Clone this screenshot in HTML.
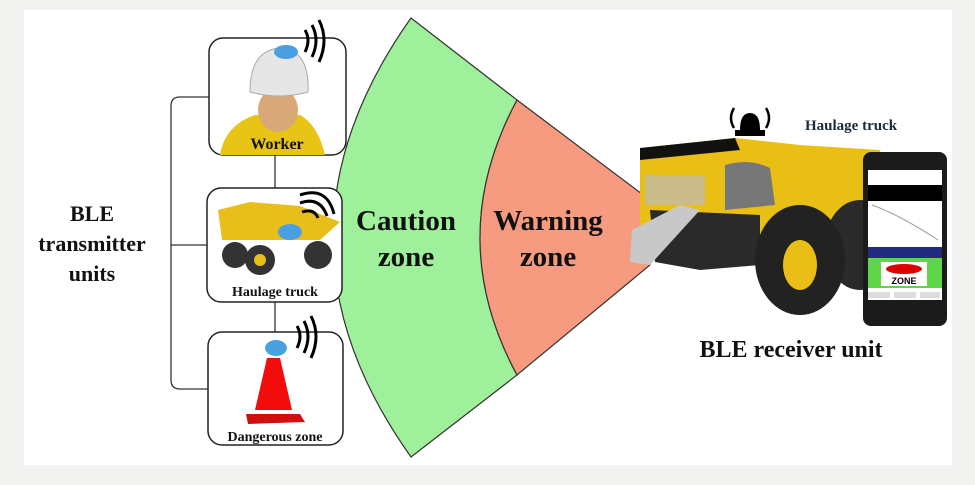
<!DOCTYPE html>
<html><head><style>
body{margin:0;width:975px;height:480px;background:#f3f3f1;overflow:hidden;font-family:"Liberation Serif",serif}
</style></head><body>
<svg width="975" height="480" viewBox="0 0 975 480" xmlns="http://www.w3.org/2000/svg" font-family="Liberation Serif, serif" font-weight="bold">
<rect x="24" y="10" width="928" height="455" fill="#fff"/>
<!-- zones -->
<path d="M411,18 L517,100 Q443,238 517,375 L411,457 Q255,238 411,18Z" fill="#9ef19a" stroke="#333" stroke-width="1.2"/>
<path d="M517,100 L650,200 L650,265 L517,375 Q443,238 517,100Z" fill="#f79b80" stroke="#333" stroke-width="1.2"/>
<!-- bracket -->
<path d="M209,97 H180 Q171,97 171,106 V380 Q171,389 180,389 H209 M171,245 H207 M275,155 V188 M275,302 V332" fill="none" stroke="#333" stroke-width="1.3"/>
<!-- boxes -->
<rect x="209" y="38" width="137" height="117" rx="14" fill="#fff" stroke="#222" stroke-width="1.5"/>
<rect x="207" y="188" width="135" height="114" rx="14" fill="#fff" stroke="#222" stroke-width="1.5"/>
<rect x="208" y="332" width="135" height="113" rx="14" fill="#fff" stroke="#222" stroke-width="1.5"/>
<!-- worker -->
<path d="M220,155 Q225,125 255,115 L300,115 Q318,125 325,155Z" fill="#e8c416"/>
<ellipse cx="278" cy="110" rx="20" ry="22" fill="#d8a878"/>
<path d="M250,92 Q250,50 280,48 Q310,50 308,92 Q280,100 250,92Z" fill="#e6e6e6" stroke="#aaa"/>
<ellipse cx="286" cy="52" rx="12" ry="7" fill="#4a9fe0"/>
<!-- truck small -->
<path d="M218,210 L250,202 L300,206 L340,222 L320,240 L222,240Z" fill="#e8bf1a"/>
<circle cx="235" cy="255" r="13" fill="#333"/><circle cx="260" cy="260" r="15" fill="#333"/><circle cx="318" cy="255" r="14" fill="#333"/>
<circle cx="260" cy="260" r="6" fill="#e8bf1a"/>
<ellipse cx="290" cy="232" rx="12" ry="8" fill="#4a9fe0"/>
<!-- cone -->
<polygon points="267,358 280,358 292,410 255,410" fill="#f20c0c"/>
<polygon points="246,414 300,414 305,422 248,424" fill="#d01010"/>
<ellipse cx="276" cy="348" rx="11" ry="8" fill="#4a9fe0"/>
<!-- wifi -->
<g fill="none" stroke="#000" stroke-width="3">
<path d="M305,30 Q311,40 305,52 M312,25 Q320,40 312,57 M319,20 Q329,40 319,62"/>
<path d="M302,212 Q314,208 318,218 M300,203 Q320,196 327,216 M300,195 Q327,186 334,214"/>
<path d="M297,326 Q303,336 297,348 M304,321 Q312,336 304,353 M311,316 Q321,336 311,358"/>
</g>
<g font-size="16" text-anchor="middle" fill="#111">
<text x="277" y="149">Worker</text>
<text x="275" y="296" font-size="14">Haulage truck</text>
<text x="275" y="441" font-size="14">Dangerous zone</text>
</g>
<g font-size="22" text-anchor="middle" fill="#111">
<text x="92" y="221">BLE</text><text x="92" y="251">transmitter</text><text x="92" y="281">units</text>
</g>
<g font-size="29" text-anchor="middle" fill="#111">
<text x="406" y="230">Caution</text><text x="406" y="266">zone</text>
<text x="548" y="230">Warning</text><text x="548" y="266">zone</text>
</g>
<!-- big truck -->
<path d="M640,148 L735,138 L800,145 L880,150 L890,200 L880,240 L800,260 L760,250 L680,260 L640,255Z" fill="#e9bf16"/>
<path d="M650,210 L760,215 L760,265 L700,270 L655,262Z" fill="#2a2a2a"/>
<path d="M632,230 L680,205 L700,210 L650,265 L630,262Z" fill="#c8c8c8"/>
<path d="M640,148 L735,138 L740,150 L640,160Z" fill="#111"/>
<rect x="645" y="175" width="60" height="30" fill="#bbb" opacity="0.7"/>
<path d="M725,165 Q750,158 770,168 L775,205 L725,210Z" fill="#777"/>
<ellipse cx="860" cy="245" rx="35" ry="45" fill="#2a2a2a"/>
<ellipse cx="800" cy="260" rx="45" ry="55" fill="#222"/>
<ellipse cx="800" cy="265" rx="17" ry="25" fill="#e9bf16"/>
<path d="M740,130 Q740,113 750,113 Q760,113 760,130Z" fill="#000"/>
<rect x="735" y="130" width="30" height="6" fill="#000"/>
<g fill="none" stroke="#000" stroke-width="2.5"><path d="M734,108 Q728,118 734,128 M766,108 Q772,118 766,128"/></g>
<text x="805" y="130" font-size="15" fill="#1a2a3a">Haulage truck</text>
<!-- phone -->
<rect x="863" y="152" width="84" height="174" rx="8" fill="#1b1b1b"/>
<rect x="868" y="170" width="74" height="130" fill="#fff"/>
<rect x="868" y="185" width="74" height="16" fill="#000"/>
<path d="M872,205 Q900,215 938,240" fill="none" stroke="#999"/>
<rect x="868" y="247" width="74" height="11" fill="#222a80"/>
<rect x="868" y="258" width="74" height="30" fill="#5fd548"/>
<rect x="881" y="262" width="46" height="24" fill="#fff"/>
<ellipse cx="904" cy="269" rx="18" ry="5" fill="#d00"/>
<text x="904" y="284" font-size="9" text-anchor="middle" font-family="Liberation Sans, sans-serif">ZONE</text>
<rect x="868" y="292" width="22" height="6" fill="#ddd"/><rect x="894" y="292" width="22" height="6" fill="#ddd"/><rect x="920" y="292" width="20" height="6" fill="#ddd"/>
<text x="791" y="357" font-size="24" text-anchor="middle" fill="#111">BLE receiver unit</text>
</svg>
</body></html>
